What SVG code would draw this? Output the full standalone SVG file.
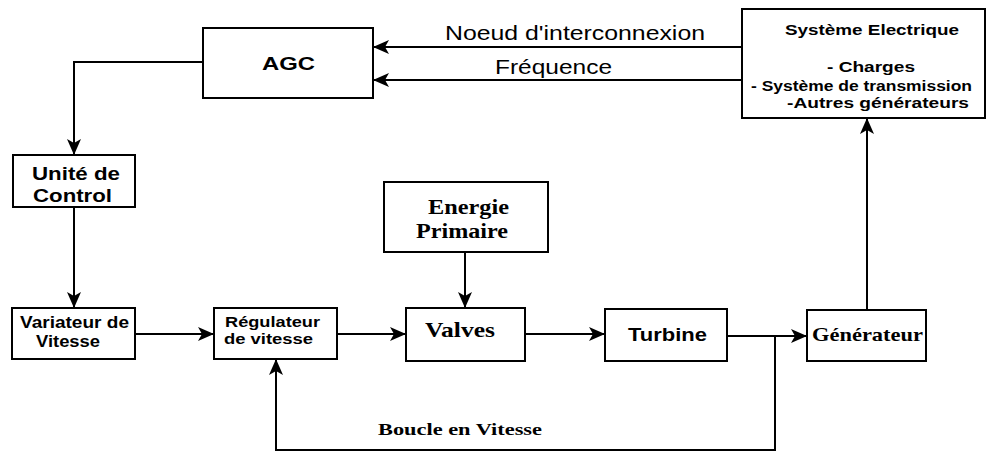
<svg xmlns="http://www.w3.org/2000/svg" width="988" height="452" viewBox="0 0 988 452">
<defs>
<marker id="arr" viewBox="0 0 16 16" refX="16" refY="8" markerWidth="16" markerHeight="16" markerUnits="userSpaceOnUse" orient="auto">
<path d="M0,1 L16,8 L0,15 L4,8 Z" fill="#000"/>
</marker>
<style>
.box{fill:#fff;stroke:#000;stroke-width:2}
.ln{fill:none;stroke:#000;stroke-width:2}
.sans{font-family:"Liberation Sans",Arial,sans-serif;font-weight:bold;fill:#000}
.reg{font-family:"Liberation Sans",Arial,sans-serif;font-weight:normal;fill:#000}
.serif{font-family:"Liberation Serif","Times New Roman",serif;font-weight:bold;fill:#000}
</style>
</defs>
<rect width="988" height="452" fill="#fff"/>
<g id="connectors">
<path class="ln" d="M742,47 H373" marker-end="url(#arr)"/>
<path class="ln" d="M742,80 H373" marker-end="url(#arr)"/>
<path class="ln" d="M203,62 H74 V155" marker-end="url(#arr)"/>
<path class="ln" d="M74,207 V308" marker-end="url(#arr)"/>
<path class="ln" d="M135,334 H214" marker-end="url(#arr)"/>
<path class="ln" d="M337,334 H406" marker-end="url(#arr)"/>
<path class="ln" d="M465,252 V308" marker-end="url(#arr)"/>
<path class="ln" d="M525,334 H605" marker-end="url(#arr)"/>
<path class="ln" d="M727,336 H807" marker-end="url(#arr)"/>
<path class="ln" d="M867,310 V118" marker-end="url(#arr)"/>
<path class="ln" d="M775,336 V450 H276 V359" marker-end="url(#arr)"/>
<text class="reg" x="445" y="40" font-size="20" textLength="260" lengthAdjust="spacingAndGlyphs">Noeud d'interconnexion</text>
<text class="reg" x="495" y="74" font-size="20" textLength="117" lengthAdjust="spacingAndGlyphs">Fréquence</text>
<text class="serif" x="378" y="435" font-size="17" textLength="164" lengthAdjust="spacingAndGlyphs">Boucle en Vitesse</text>
</g>
<g id="agc">
<rect class="box" x="203" y="28" width="170" height="70"/>
<text class="sans" x="262" y="70" font-size="18" textLength="53" lengthAdjust="spacingAndGlyphs">AGC</text>
</g>
<g id="systeme-electrique">
<rect class="box" x="742" y="9" width="243" height="109"/>
<text class="sans" x="785" y="35" font-size="15" textLength="174" lengthAdjust="spacingAndGlyphs">Système Electrique</text>
<text class="sans" x="827" y="72" font-size="15" textLength="88" lengthAdjust="spacingAndGlyphs">- Charges</text>
<text class="sans" x="751" y="91" font-size="14" textLength="221" lengthAdjust="spacingAndGlyphs">- Système de transmission</text>
<text class="sans" x="787" y="108" font-size="15" textLength="182" lengthAdjust="spacingAndGlyphs">-Autres générateurs</text>
</g>
<g id="unite-control">
<rect class="box" x="13" y="155" width="122" height="52"/>
<text class="sans" x="32" y="180" font-size="18" textLength="88" lengthAdjust="spacingAndGlyphs">Unité de</text>
<text class="sans" x="33" y="202" font-size="18" textLength="79" lengthAdjust="spacingAndGlyphs">Control</text>
</g>
<g id="variateur">
<rect class="box" x="12" y="308" width="123" height="51"/>
<text class="sans" x="20" y="328" font-size="16" textLength="109" lengthAdjust="spacingAndGlyphs">Variateur de</text>
<text class="sans" x="36" y="347" font-size="16" textLength="64" lengthAdjust="spacingAndGlyphs">Vitesse</text>
</g>
<g id="regulateur">
<rect class="box" x="214" y="308" width="123" height="51"/>
<text class="sans" x="225" y="327" font-size="14" textLength="95" lengthAdjust="spacingAndGlyphs">Régulateur</text>
<text class="sans" x="224" y="344" font-size="14" textLength="89" lengthAdjust="spacingAndGlyphs">de vitesse</text>
</g>
<g id="energie-primaire">
<rect class="box" x="384" y="182" width="164" height="70"/>
<text class="serif" x="428" y="214" font-size="20" textLength="81" lengthAdjust="spacingAndGlyphs">Energie</text>
<text class="serif" x="416" y="238" font-size="20" textLength="92" lengthAdjust="spacingAndGlyphs">Primaire</text>
</g>
<g id="valves">
<rect class="box" x="406" y="308" width="119" height="53"/>
<text class="serif" x="425" y="337" font-size="21" textLength="70" lengthAdjust="spacingAndGlyphs">Valves</text>
</g>
<g id="turbine">
<rect class="box" x="605" y="309" width="122" height="52"/>
<text class="sans" x="628" y="341" font-size="18" textLength="79" lengthAdjust="spacingAndGlyphs">Turbine</text>
</g>
<g id="generateur">
<rect class="box" x="807" y="310" width="119" height="51"/>
<text class="serif" x="812" y="341" font-size="19" textLength="111" lengthAdjust="spacingAndGlyphs">Générateur</text>
</g>
</svg>
